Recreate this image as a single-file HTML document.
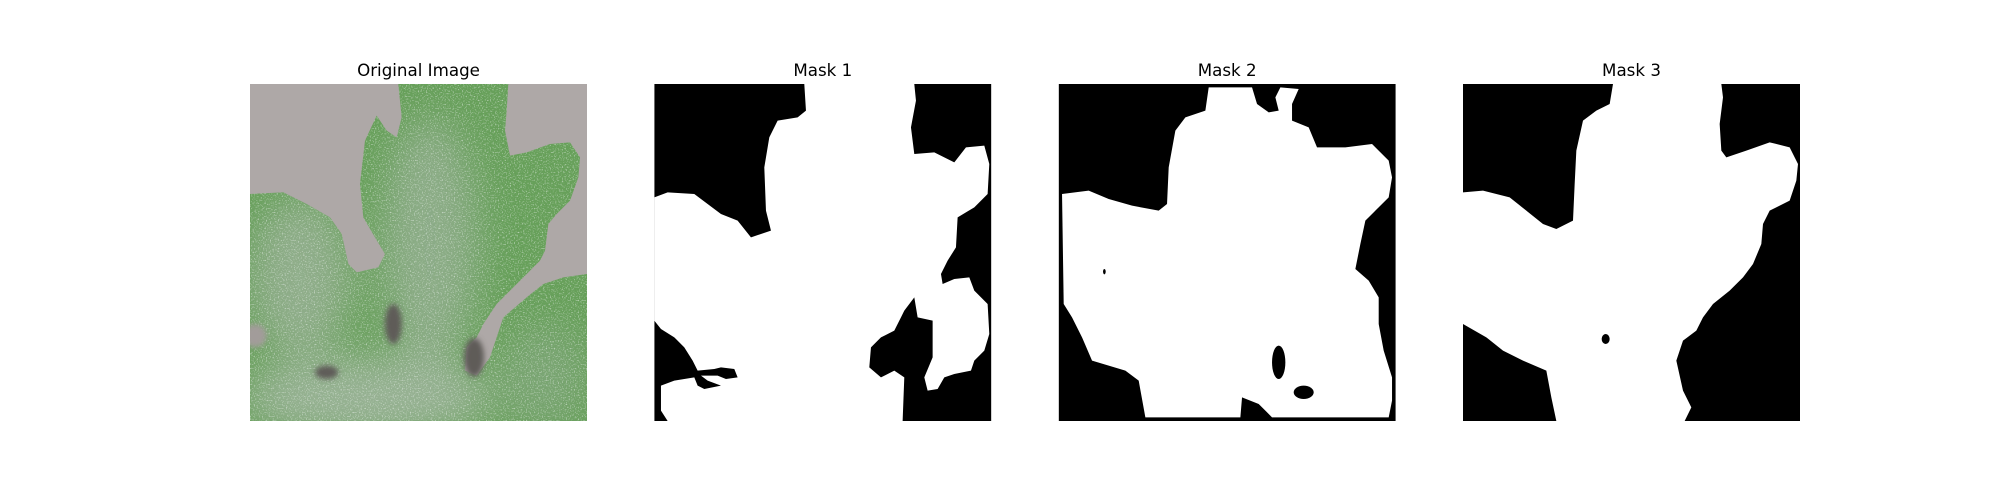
<!DOCTYPE html>
<html><head><meta charset="utf-8"><style>
html,body{margin:0;padding:0;background:#fff;width:2000px;height:500px;overflow:hidden}
svg{display:block}
text{font-family:"DejaVu Sans","Liberation Sans",sans-serif;font-size:16.7px;fill:#000}
</style></head><body>
<svg width="2000" height="500" viewBox="0 0 2000 500">
<defs>
<filter id="spk" x="0" y="0" width="100%" height="100%">
<feTurbulence type="fractalNoise" baseFrequency="0.25" numOctaves="1" seed="3" result="n"/>
<feColorMatrix in="n" type="matrix" values="0 0 0 0 0.88  0 0 0 0 0.93  0 0 0 0 0.9  0 0 0 4 -2.1"/>
</filter>
<filter id="blur" x="-50%" y="-50%" width="200%" height="200%"><feGaussianBlur stdDeviation="60"/></filter>
<filter id="blur2" x="-50%" y="-50%" width="200%" height="200%"><feGaussianBlur stdDeviation="8"/></filter>
<path id="leafPath" d="M445,0 L775,0 L770,80 L765,140 L780,215 L830,205 L900,180 L960,175 L990,220 L985,280 L960,350 L920,390 L895,420 L885,500 L870,530 L820,580 L780,620 L740,660 L700,720 L680,760 L650,790 L645,860 L680,875 L720,820 L760,700 L830,640 L880,600 L940,580 L1011,570 L1011,1011 L0,1011 L0,330 L100,325 L170,360 L240,400 L275,450 L295,540 L320,565 L385,550 L405,510 L375,460 L340,400 L330,300 L345,170 L380,95 L410,140 L440,160 L455,100 Z"/>
<clipPath id="leafClip"><use href="#leafPath"/></clipPath>
<clipPath id="c0"><rect x="0" y="0" width="337" height="337"/></clipPath>
</defs>

<!-- Panel 1: original image -->
<g>
<text x="418.5" y="76" text-anchor="middle">Original Image</text>
<g transform="translate(250,84)" clip-path="url(#c0)">
<rect width="337" height="337" fill="#aea8a7"/>
<g transform="scale(0.33333)">
<use href="#leafPath" fill="#67a05a"/>
<g clip-path="url(#leafClip)">
<g filter="url(#blur)">
<ellipse cx="150" cy="580" rx="150" ry="240" fill="#98b096" opacity="0.8"/>
<ellipse cx="540" cy="480" rx="140" ry="380" fill="#98b096" opacity="0.75"/>
<ellipse cx="350" cy="940" rx="380" ry="120" fill="#a0b59e" opacity="0.85"/>
<ellipse cx="880" cy="880" rx="130" ry="160" fill="#90ac8d" opacity="0.5"/>
</g>
<rect width="1011" height="1011" filter="url(#spk)" opacity="0.55"/>
</g>
<g filter="url(#blur2)">
<ellipse cx="15" cy="755" rx="35" ry="35" fill="#a29c9a"/>
<ellipse cx="430" cy="720" rx="25" ry="60" fill="#5f5c59"/>
<ellipse cx="672" cy="820" rx="30" ry="58" fill="#5f5c59"/>
<ellipse cx="230" cy="865" rx="35" ry="20" fill="#5f5c59"/>
</g>
</g>
</g>
</g>

<!-- Panel 2: Mask 1 -->
<g>
<text x="822.8" y="76" text-anchor="middle">Mask 1</text>
<g transform="translate(654.3,84)" clip-path="url(#c0)">
<rect width="337" height="337" fill="#000"/>
<g transform="scale(0.33333)">
<path fill="#fff" d="M450,0 L780,0 L785,50 L770,130 L780,210 L840,205 L900,235 L935,190 L990,185 L1005,240 L1000,330 L960,370 L910,400 L905,490 L880,530 L860,570 L865,600 L900,585 L945,580 L960,620 L1000,660 L1005,750 L990,800 L960,830 L950,860 L900,870 L870,880 L850,915 L820,920 L810,880 L835,820 L835,710 L790,700 L780,640 L750,680 L740,700 L720,740 L680,760 L650,790 L645,850 L680,880 L720,860 L750,880 L745,1011 L40,1011 L20,980 L20,905 L60,890 L120,880 L130,905 L150,915 L200,905 L160,890 L140,875 L190,875 L215,885 L250,880 L240,855 L200,850 L180,855 L130,860 L115,830 L90,790 L60,760 L20,735 L0,710 L0,340 L40,325 L120,330 L160,360 L200,390 L250,410 L290,460 L350,440 L335,380 L330,250 L345,160 L370,110 L430,100 L455,80 Z"/>
</g>
</g>
</g>

<!-- Panel 3: Mask 2 -->
<g>
<text x="1227.2" y="76" text-anchor="middle">Mask 2</text>
<g transform="translate(1058.7,84)" clip-path="url(#c0)">
<rect width="337" height="337" fill="#000"/>
<g transform="scale(0.33333)">
<path fill="#fff" d="M450,10 L580,10 L595,60 L630,85 L660,80 L650,40 L665,10 L720,15 L700,60 L700,110 L750,130 L775,190 L860,190 L940,180 L990,230 L1000,280 L990,340 L950,380 L920,410 L905,480 L890,555 L930,590 L960,640 L960,720 L975,800 L1000,880 L1000,950 L990,1000 L640,1000 L600,960 L550,940 L545,1000 L260,1000 L240,890 L200,860 L100,830 L70,760 L40,700 L15,660 L10,330 L90,320 L150,345 L220,365 L300,380 L325,360 L330,250 L350,140 L380,100 L440,80 Z"/>
<ellipse cx="660" cy="835" rx="20" ry="50" fill="#000"/>
<ellipse cx="735" cy="925" rx="30" ry="20" fill="#000"/>
<ellipse cx="137" cy="563" rx="4" ry="8" fill="#000"/>
</g>
</g>
</g>

<!-- Panel 4: Mask 3 -->
<g>
<text x="1631.5" y="76" text-anchor="middle">Mask 3</text>
<g transform="translate(1463,84)" clip-path="url(#c0)">
<rect width="337" height="337" fill="#000"/>
<g transform="scale(0.33333)">
<path fill="#fff" d="M450,0 L775,0 L780,40 L770,120 L775,200 L790,220 L850,200 L920,175 L980,190 L1005,240 L1000,290 L980,350 L920,380 L900,420 L895,480 L870,540 L840,580 L800,620 L750,660 L720,700 L700,740 L660,770 L640,830 L660,920 L685,970 L665,1011 L280,1011 L265,940 L250,860 L180,830 L120,800 L70,760 L0,720 L0,325 L60,320 L140,340 L190,380 L240,420 L280,435 L330,410 L335,300 L340,200 L360,110 L400,80 L440,60 Z"/>
<ellipse cx="428" cy="765" rx="12" ry="15" fill="#000"/>
</g>
</g>
</g>
</svg>
</body></html>
